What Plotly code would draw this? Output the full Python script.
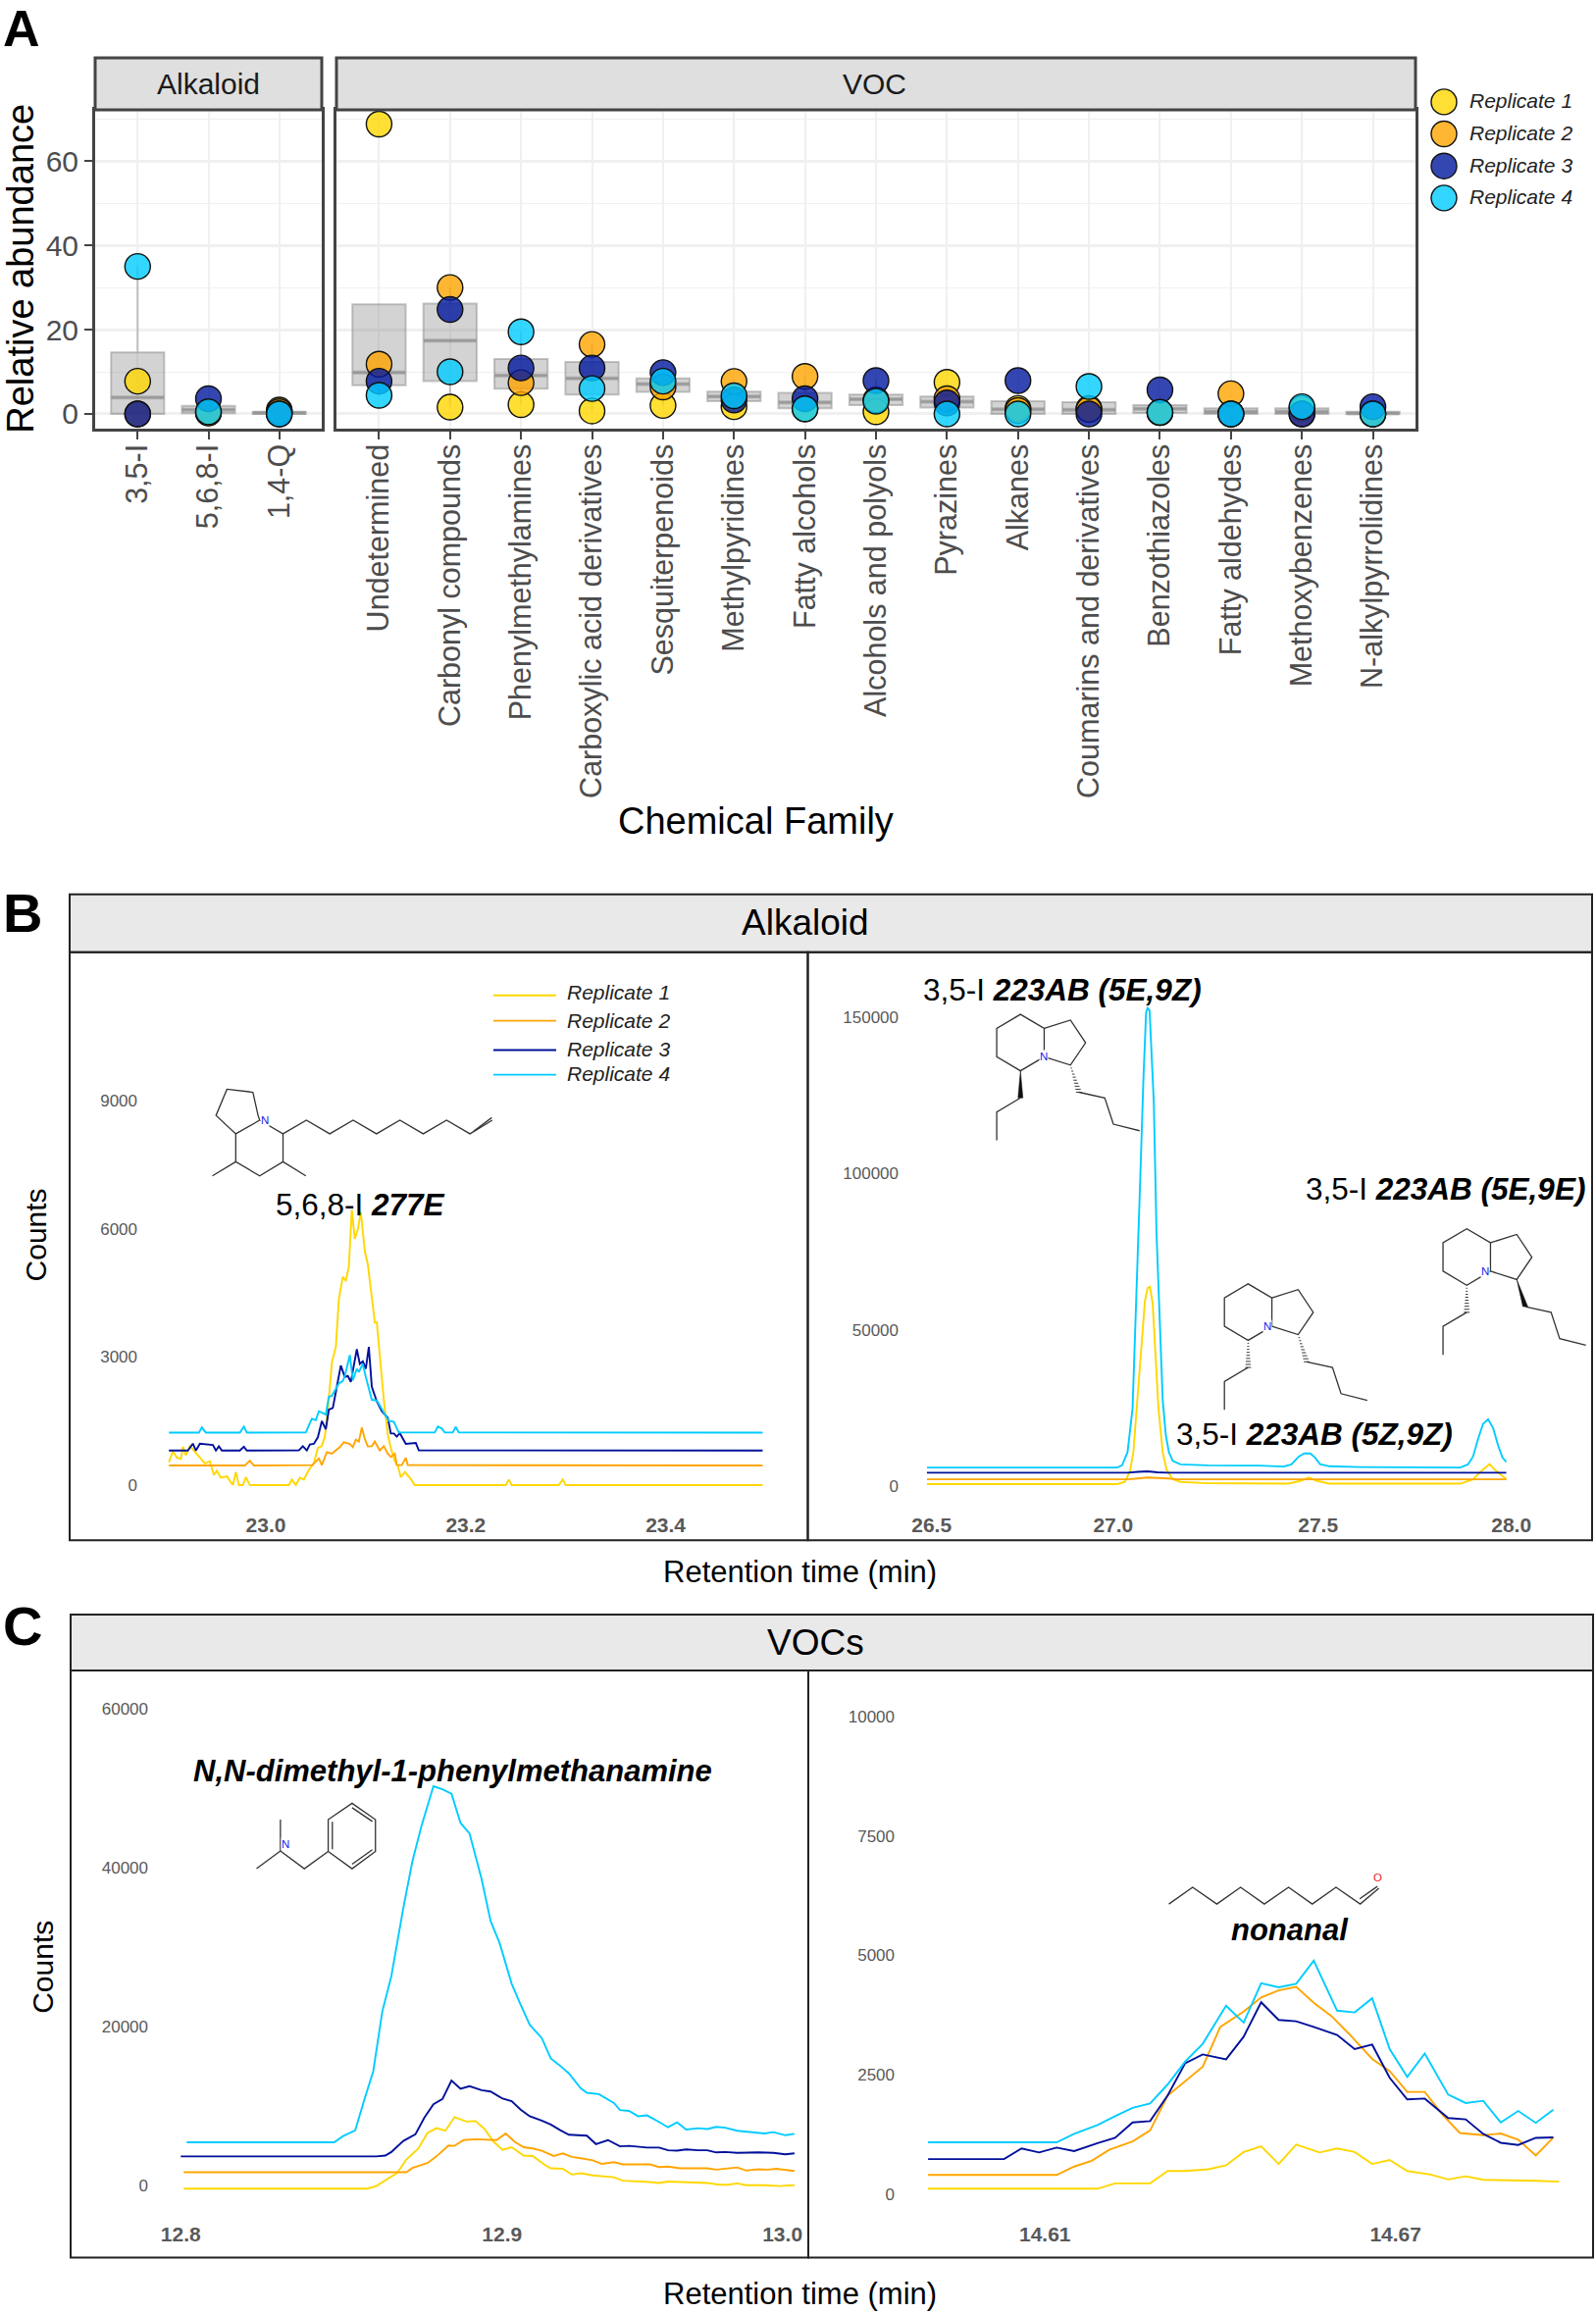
import plotly.graph_objects as go

W, H = 1627, 2357
FONT = "Liberation Sans"
def X(p): return p / W
def Y(p): return 1 - (p + 1.5 if p > 900 else p) / H

# ---------- Panel A data ----------
families_alk = ["3,5-I", "5,6,8-I", "1,4-Q"]
families_voc = ["Undetermined", "Carbonyl compounds", "Phenylmethylamines", "Carboxylic acid derivatives",
                "Sesquiterpenoids", "Methylpyridines", "Fatty alcohols", "Alcohols and polyols", "Pyrazines",
                "Alkanes", "Coumarins and derivatives", "Benzothiazoles", "Fatty aldehydes",
                "Methoxybenzenes", "N-alkylpyrrolidines"]
r1_alk = [7.75, 0.3, 0.9]
r2_alk = [0.0, 0.2, 0.5]
r3_alk = [0.0, 3.6, 0.0]
r4_alk = [35.0, 0.5, 0.0]
r1_voc = [68.8, 1.6, 2.2, 0.7, 2.0, 1.7, 1.2, 0.5, 7.5, 1.3, 1.3, 0.3, 0.0, 1.3, 0.0]
r2_voc = [11.8, 30.0, 7.4, 16.5, 6.4, 7.7, 8.9, 3.3, 3.6, 0.8, 1.0, 0.3, 4.8, 0.0, 0.0]
r3_voc = [7.75, 24.8, 10.9, 10.9, 9.8, 3.3, 3.6, 7.9, 2.6, 7.9, 0.0, 5.7, 0.0, 0.0, 1.7]
r4_voc = [4.4, 10.0, 19.5, 6.0, 7.75, 4.3, 1.2, 3.0, 0.0, 0.0, 6.5, 0.4, 0.0, 1.7, 0.0]

q1_alk = [0.0, 0.15, 0.0]
med_alk = [3.9, 1.0, 0.2]
q3_alk = [14.6, 1.9, 0.5]
low_alk = [0.0, 0.15, 0.0]
high_alk = [35.0, 1.9, 0.9]
q1_voc = [6.8, 7.8, 6.0, 4.6, 5.2, 3.0, 1.3, 2.1, 1.5, 0.0, 0.0, 0.2, 0.0, 0.0, 0.0]
med_voc = [9.8, 17.4, 9.1, 8.4, 7.1, 4.1, 2.7, 3.5, 2.9, 1.1, 1.0, 1.2, 0.5, 0.5, 0.1]
q3_voc = [26.0, 26.2, 13.0, 12.3, 8.4, 5.3, 5.0, 4.6, 4.1, 3.0, 2.8, 2.1, 1.3, 1.3, 0.5]
low_voc = [4.4, 1.6, 2.2, 0.7, 2.0, 1.7, 1.2, 0.5, 0.0, 0.0, 0.0, 0.2, 0.0, 0.0, 0.0]
high_voc = [26.0, 30.0, 19.5, 16.5, 9.8, 7.7, 8.9, 7.9, 7.5, 3.0, 2.8, 2.1, 1.3, 1.3, 0.5]

rep_names = ["Replicate 1", "Replicate 2", "Replicate 3", "Replicate 4"]
rep_fill = ["rgba(255,215,0,0.8)", "rgba(255,165,0,0.8)", "rgba(1,24,159,0.8)", "rgba(0,204,255,0.8)"]
rep_line = ["#FFD700", "#FFA500", "#00109A", "#00CCFF"]

# ---------- Panel B data (left: 5,6,8-I 277E) ----------
bl_rt_r1 = [22.903,22.907,22.911,22.915,22.917,22.92,22.924,22.929,22.934,22.939,22.944,22.948,22.951,22.955,22.961,22.967,22.970,22.973,22.977,22.980,22.984,23.023,23.026,23.03,23.034,23.038,23.043,23.048,23.052,23.056,23.059,23.063,23.066,23.07,23.073,23.077,23.08,23.083,23.086,23.089,23.092,23.095,23.099,23.102,23.106,23.109,23.111,23.115,23.118,23.122,23.125,23.129,23.132,23.135,23.139,23.144,23.149,23.24,23.243,23.246,23.293,23.297,23.3,23.497]
bl_ct_r1 = [540,790,645,615,900,700,920,790,645,510,560,235,340,175,205,0,305,0,0,185,0,0,130,0,175,130,360,510,870,920,1130,2000,2870,3230,4350,4880,4780,5120,6450,5770,5990,6400,5480,5170,4400,3810,3810,2710,2000,1180,870,560,460,185,305,175,0,0,130,0,0,130,0,0]
bl_rt_r2 = [22.903,22.979,22.984,22.988,23.0465,23.053,23.056,23.061,23.066,23.074,23.078,23.084,23.087,23.090,23.093,23.096,23.099,23.102,23.106,23.109,23.114,23.118,23.122,23.125,23.129,23.131,23.136,23.140,23.142,23.497]
bl_ct_r2 = [460,460,575,460,470,623,470,775,737,890,1005,967,890,1066,1020,1349,1080,906,913,1020,813,913,737,661,737,470,470,637,470,460]
bl_rt_r3 = [22.903,22.922,22.927,22.930,22.934,22.942,22.947,22.950,22.953,22.956,22.974,22.978,22.981,23.033,23.037,23.041,23.044,23.048,23.052,23.056,23.060,23.063,23.067,23.071,23.075,23.079,23.082,23.085,23.091,23.094,23.097,23.100,23.103,23.106,23.111,23.116,23.122,23.125,23.128,23.131,23.134,23.140,23.150,23.153,23.497]
bl_ct_r3 = [810,810,973,810,973,960,940,810,910,810,810,900,810,814,913,814,951,967,1120,1500,1310,1770,1808,2305,2800,2534,2557,2420,3184,2840,2900,2725,3237,2305,1960,1731,1578,1211,1211,1135,1219,967,990,814,810]
bl_rt_r4 = [22.903,22.933,22.936,22.940,22.974,22.978,22.981,23.040,23.046,23.050,23.053,23.060,23.063,23.066,23.073,23.077,23.079,23.084,23.087,23.091,23.093,23.097,23.100,23.106,23.111,23.117,23.123,23.128,23.133,23.169,23.172,23.176,23.179,23.187,23.190,23.193,23.497]
bl_ct_r4 = [1230,1230,1350,1230,1230,1370,1230,1234,1555,1525,1731,1655,2075,2090,2381,2442,2550,3046,2458,2725,2649,2840,2534,1999,1983,1731,1502,1486,1234,1234,1372,1326,1234,1234,1364,1234,1230]

# ---------- Panel B data (right: 3,5-I 223AB) ----------
br_rt_r1 = [26.488,26.98,27.0,27.013,27.022,27.033,27.043,27.052,27.059,27.065,27.072,27.078,27.087,27.098,27.108,27.124,27.144,27.215,27.424,27.456,27.476,27.495,27.529,27.868,27.901,27.92,27.944,27.957,27.987]
br_ct_r1 = [700,700,1400,4600,10900,27700,45900,59200,63400,63800,58500,45900,24900,10900,5300,2240,1400,980,840,1800,2800,1800,840,840,2240,4600,7100,5300,2240]
br_rt_r2 = [26.488,27.007,27.033,27.059,27.111,27.137,27.987]
br_ct_r2 = [2240,2240,2500,2800,2500,2240,2240]
br_rt_r3 = [26.488,27.007,27.033,27.059,27.085,27.111,27.987]
br_ct_r3 = [4340,4340,4600,4750,4480,4340,4340]
br_rt_r4 = [26.488,26.98,26.993,27.007,27.02,27.03,27.039,27.048,27.055,27.059,27.064,27.069,27.075,27.082,27.09,27.098,27.106,27.114,27.124,27.144,27.215,27.346,27.411,27.431,27.45,27.464,27.48,27.492,27.505,27.529,27.607,27.738,27.868,27.888,27.901,27.914,27.927,27.94,27.953,27.966,27.977,27.987]
br_ct_r4 = [6000,6000,6700,10900,24900,59900,94850,129800,151500,152900,152200,138900,122800,80900,52900,27700,16500,10900,8100,7000,6700,6600,6300,7000,9500,10500,10500,9200,7100,6400,6150,6000,6000,7000,9500,15100,20000,21400,18600,13000,9200,7800]

# ---------- Panel C data (left: N,N-dimethyl-1-phenylmethanamine) ----------
cl_rt_r1 = [12.801,12.862,12.865,12.869,12.872,12.875,12.879,12.882,12.885,12.888,12.891,12.895,12.898,12.901,12.904,12.907,12.910,12.914,12.917,12.921,12.923,12.927,12.930,12.933,12.937,12.944,12.947,12.956,12.959,12.962,12.970,12.975,12.979,12.982,12.985,12.988,12.994,12.999,13.004]
cl_ct_r1 = [0,0,330,1330,2000,3670,5060,7000,7610,7280,9000,8440,8500,7500,5890,4890,5220,4170,4110,3000,2560,2500,1780,1940,1670,1440,1000,830,720,890,830,720,500,500,670,440,440,330,440]
cl_rt_r2 = [12.801,12.875,12.877,12.882,12.885,12.889,12.891,12.894,12.898,12.905,12.908,12.911,12.914,12.917,12.920,12.924,12.927,12.930,12.933,12.937,12.940,12.944,12.947,12.956,12.959,12.962,12.966,12.975,12.978,12.985,12.988,12.992,12.995,12.998,13.004]
cl_ct_r2 = [2060,2060,2610,3220,4060,5440,5390,6110,6220,6110,6950,5890,5220,5060,4780,4110,4440,4000,3830,3560,3110,3330,3060,3060,2720,2780,2560,2560,2390,2670,2280,2440,2390,2500,2220]
cl_rt_r3 = [12.8,12.865,12.868,12.870,12.874,12.878,12.881,12.884,12.887,12.890,12.893,12.896,12.900,12.903,12.907,12.910,12.913,12.916,12.920,12.923,12.926,12.929,12.935,12.938,12.942,12.946,12.949,12.955,12.959,12.962,12.965,12.968,12.972,12.975,12.978,12.981,12.985,12.992,12.997,13.001,13.004]
cl_ct_r3 = [4060,4060,4170,4610,6000,6830,8950,10610,11280,13610,12560,12890,12390,12220,11330,11000,9940,9110,8560,8060,7390,6780,6670,5610,6110,5330,5390,5170,5170,4830,4780,4940,4830,4830,4560,4610,4500,4560,4500,4330,4440]
cl_rt_r4 = [12.802,12.851,12.854,12.858,12.861,12.864,12.867,12.870,12.874,12.877,12.880,12.884,12.887,12.890,12.893,12.896,12.900,12.903,12.906,12.910,12.913,12.916,12.920,12.923,12.926,12.929,12.933,12.935,12.939,12.944,12.946,12.949,12.952,12.955,12.959,12.962,12.965,12.968,12.972,12.975,12.978,12.981,12.985,12.988,12.992,12.994,12.997,13.001,13.004]
cl_ct_r4 = [5830,5830,6610,7330,11170,14780,22280,26720,35340,41170,45600,50610,50230,49670,46000,44670,38950,33670,30890,25780,23110,20610,18950,16390,15500,14500,12610,12060,11890,10780,9890,9780,9110,9220,8390,7720,8330,7440,7610,7500,7780,7670,7280,7170,6950,6950,7110,6720,6890]

# ---------- Panel C data (right: nonanal) ----------
cr_rt_r1 = [14.590,14.619,14.622,14.628,14.631,14.634,14.638,14.641,14.644,14.647,14.650,14.653,14.657,14.660,14.663,14.666,14.669,14.672,14.676,14.679,14.682,14.685,14.694,14.698]
cr_ct_r1 = [111,111,222,222,481,481,518,601,879,999,629,1036,870,953,879,629,712,481,407,305,370,296,277,259]
cr_rt_r2 = [14.590,14.612,14.615,14.618,14.621,14.625,14.628,14.631,14.634,14.637,14.640,14.644,14.647,14.650,14.653,14.656,14.659,14.662,14.666,14.669,14.672,14.675,14.678,14.681,14.685,14.688,14.691,14.694,14.697]
cr_ct_r2 = [398,398,574,694,925,1101,1332,2063,2359,2664,3497,3820,4116,4264,4338,4005,3728,3358,2830,2572,2137,2137,1665,1277,1230,1267,1138,805,1184]
cr_rt_r3 = [14.590,14.603,14.606,14.609,14.612,14.615,14.619,14.622,14.625,14.628,14.631,14.634,14.637,14.641,14.644,14.647,14.650,14.653,14.656,14.660,14.663,14.666,14.669,14.672,14.675,14.679,14.682,14.685,14.688,14.691,14.694,14.697]
cr_ct_r3 = [731,731,953,870,971,897,1064,1175,1499,1526,2063,2738,2923,2821,3293,4015,3645,3617,3497,3330,3034,3127,2433,1980,1998,1591,1563,1258,1073,1027,1175,1184]
cr_rt_r4 = [14.590,14.612,14.615,14.619,14.622,14.625,14.628,14.631,14.634,14.637,14.641,14.644,14.647,14.650,14.653,14.656,14.660,14.663,14.666,14.669,14.672,14.675,14.679,14.682,14.685,14.688,14.691,14.694,14.697]
cr_ct_r4 = [1082,1082,1258,1443,1628,1804,1896,2294,2775,3145,3940,3589,4412,4329,4403,4884,3839,3802,4098,3034,2451,2942,2081,1906,1952,1499,1739,1489,1767]

fig = go.Figure()

# ---------- Panel A traces ----------
BOX_FILL = "rgba(128,128,128,0.35)"
BOX_LINE = "rgba(128,128,128,0.45)"
def panel_a(fam, q1, med, q3, low, high, reps, xa, ya):
    fig.add_trace(go.Box(x=fam, q1=q1, median=med, q3=q3, lowerfence=low, upperfence=high,
                         width=0.75, whiskerwidth=0, fillcolor=BOX_FILL, boxpoints=False,
                         line=dict(color=BOX_LINE, width=2), showlegend=False, hoverinfo="skip",
                         xaxis=xa, yaxis=ya))
    fig.add_trace(go.Scatter(x=fam, y=med, mode="markers", showlegend=False, hoverinfo="skip",
                             marker=dict(symbol="line-ew", size=38.5, line=dict(color="rgba(128,128,128,0.45)", width=4)),
                             xaxis=xa, yaxis=ya))
    for i, vals in enumerate(reps):
        fig.add_trace(go.Scatter(x=fam, y=vals, mode="markers", name=rep_names[i], showlegend=False,
                                 marker=dict(size=26, color=rep_fill[i], line=dict(color="#111", width=1.4)),
                                 xaxis=xa, yaxis=ya))

panel_a(families_alk, q1_alk, med_alk, q3_alk, low_alk, high_alk, [r1_alk, r2_alk, r3_alk, r4_alk], "x", "y")
panel_a(families_voc, q1_voc, med_voc, q3_voc, low_voc, high_voc, [r1_voc, r2_voc, r3_voc, r4_voc], "x2", "y2")

# legends drawn on small axis pairs of their own so that keys and spacing follow the reference
key_pos = [1, 2, 3, 4]
for i in range(4):
    fig.add_trace(go.Scatter(x=[0], y=[key_pos[i]], mode="markers", showlegend=False, hoverinfo="skip",
                             marker=dict(size=26, color=rep_fill[i], line=dict(color="#111", width=1.4)),
                             xaxis="x7", yaxis="y7"))
line_key_pos = [0.64, 1.82, 3.18, 4.32]
line_key_text_pos = [0.5, 1.82, 3.12, 4.26]
for i in range(4):
    fig.add_trace(go.Scatter(x=[0, 64], y=[line_key_pos[i]] * 2, mode="lines", showlegend=False, hoverinfo="skip",
                             line=dict(color=rep_line[i], width=1.9), xaxis="x8", yaxis="y8"))

# ---------- Panels B, C traces ----------
def lines(series, xa, ya):
    for i, (rt, ct) in enumerate(series):
        fig.add_trace(go.Scatter(x=rt, y=ct, mode="lines", name=rep_names[i], showlegend=False,
                                 line=dict(color=rep_line[i], width=1.9), xaxis=xa, yaxis=ya))

lines([(bl_rt_r1, bl_ct_r1), (bl_rt_r2, bl_ct_r2), (bl_rt_r3, bl_ct_r3), (bl_rt_r4, bl_ct_r4)], "x3", "y3")
lines([(br_rt_r1, br_ct_r1), (br_rt_r2, br_ct_r2), (br_rt_r3, br_ct_r3), (br_rt_r4, br_ct_r4)], "x4", "y4")
lines([(cl_rt_r1, cl_ct_r1), (cl_rt_r2, cl_ct_r2), (cl_rt_r3, cl_ct_r3), (cl_rt_r4, cl_ct_r4)], "x5", "y5")
lines([(cr_rt_r1, cr_ct_r1), (cr_rt_r2, cr_ct_r2), (cr_rt_r3, cr_ct_r3), (cr_rt_r4, cr_ct_r4)], "x6", "y6")

# ---------- Layout helpers ----------
GRID = "#F0F0F0"
AX = "#444444"
def a_x(dom, fam):
    return dict(domain=[X(dom[0]), X(dom[1])], type="category", categoryorder="array", categoryarray=fam,
                range=[-0.6, len(fam) - 0.4], tickangle=-90, showline=True, mirror=True, linecolor=AX, linewidth=3,
                ticks="outside", ticklen=8, tickwidth=2, tickcolor=AX, showgrid=True, gridcolor=GRID, gridwidth=2,
                zeroline=False, tickfont=dict(family=FONT, size=30.5, color="#4D4D4D"), ticklabelstandoff=-7)
def a_y(anchor, show):
    return dict(domain=[Y(437), Y(112)], range=[-3.42, 72.2], anchor=anchor, tickvals=[0, 20, 40, 60],
                showline=True, mirror=True, linecolor=AX, linewidth=3, showgrid=True, gridcolor=GRID, gridwidth=2.6,
                minor=dict(tickvals=[10, 30, 50, 70], showgrid=True, gridcolor=GRID, gridwidth=1.3, ticks=""),
                ticks="outside" if show else "", ticklen=8, tickwidth=2, tickcolor=AX, showticklabels=show, zeroline=False,
                tickfont=dict(family=FONT, size=30, color="#4D4D4D"))
def chrom_x(dom, rng, vals, text, lab_y):
    return dict(domain=[X(dom[0]), X(dom[1])], range=rng, anchor="free", position=Y(lab_y), tickvals=vals, ticktext=text,
                showline=False, showgrid=False, zeroline=False, ticks="",
                tickfont=dict(family=FONT, size=21, color="#595959", weight="bold"))
def chrom_y(top, bottom, rng, vals, pos_x, shift=0):
    return dict(domain=[Y(bottom), Y(top)], range=rng, anchor="free", position=X(pos_x), tickvals=vals,
                tickformat="d", showline=False, showgrid=False, zeroline=False, ticks="", ticklabelshift=shift,
                tickfont=dict(family=FONT, size=17, color="#595959"))

layout = dict(
    width=W, height=H, margin=dict(l=0, r=0, t=0, b=0), paper_bgcolor="white", plot_bgcolor="rgba(0,0,0,0)",
    boxmode="overlay", font=dict(family=FONT), showlegend=False,
    xaxis=a_x((97, 328), families_alk), yaxis=a_y("x", True),
    xaxis2=a_x((343, 1443), families_voc), yaxis2={**a_y("x2", False), "matches": "y"},
    xaxis3=chrom_x((71, 823), [22.8037, 23.5417], [23.0, 23.2, 23.4], ["23.0", "23.2", "23.4"], 1540),
    yaxis3=chrom_y(970, 1570, [-1289, 12484], [0, 3000, 6000, 9000], 140),
    xaxis4=chrom_x((823.6, 1623), [26.18, 28.209], [26.5, 26.97, 27.5, 28.0], ["26.5", "27.0", "27.5", "28.0"], 1540),
    yaxis4=chrom_y(970, 1570, [-17230, 170750], [0, 50000, 100000, 150000], 916),
    xaxis5=chrom_x((72, 824), [12.7634, 13.0086], [12.8, 12.9068, 13.0], ["12.8", "12.9", "13.0"], 2263),
    yaxis5=chrom_y(1703, 2302, [-8670, 65170], [0, 20000, 40000, 60000], 151, -3),
    xaxis6=chrom_x((824, 1624), [14.5695, 14.7038], [14.61, 14.67], ["14.61", "14.67"], 2263),
    yaxis6=chrom_y(1703, 2302, [-1332, 10961], [0, 2500, 5000, 7500, 10000], 912),
    xaxis7=dict(domain=[X(1452), X(1622)], range=[-20, 150], visible=False, anchor="y7"),
    yaxis7=dict(domain=[Y(218), Y(88)], range=[4.49, 0.51], visible=False, anchor="x7"),
    xaxis8=dict(domain=[X(503), X(703)], range=[0, 200], visible=False, anchor="y8"),
    yaxis8=dict(domain=[Y(1110), Y(1000)], range=[5, 0], visible=False, anchor="x8"),
)

shapes = []
anns = []
def rect(x0, y0, x1, y1, fill, color, width):
    shapes.append(dict(type="rect", xref="paper", yref="paper", x0=X(x0), x1=X(x1), y0=Y(y0), y1=Y(y1),
                       fillcolor=fill, line=dict(color=color, width=width), layer="above"))
def label(x, y, text, size, color="#000", angle=0, anchor="center"):
    anns.append(dict(xref="paper", yref="paper", x=X(x), y=Y(y), text=text, showarrow=False, textangle=angle,
                     xanchor=anchor, yanchor="middle", font=dict(family=FONT, size=size, color=color)))

# strips of panel A
rect(97, 59, 328, 112, "#DFDFDF", AX, 3)
rect(343, 59, 1443, 112, "#DFDFDF", AX, 3)
label(212, 86, "Alkaloid", 30, "#1A1A1A")
label(892, 86, "VOC", 30, "#1A1A1A")
# frames and strips of B, C
rect(71, 911, 1623, 970, "#E9E9E9", "#222", 2)
rect(71, 970, 823.5, 1570, "rgba(0,0,0,0)", "#222", 2)
rect(823.5, 970, 1623, 1570, "rgba(0,0,0,0)", "#222", 2)
rect(72, 1646, 1624, 1703, "#E9E9E9", "#222", 2)
rect(72, 1703, 824, 2302, "rgba(0,0,0,0)", "#222", 2)
rect(824, 1703, 1624, 2302, "rgba(0,0,0,0)", "#222", 2)

# texts
label(21, 274, "Relative abundance", 38, "#000", -90)
label(770, 838, "Chemical Family", 38)
label(821, 940, "Alkaloid", 37)
label(831, 1674, "VOCs", 37)
label(815, 1602, "Retention time (min)", 31)
label(815, 2339, "Retention time (min)", 31)
label(36, 1259, "Counts", 30, "#000", -90)
label(44, 2006, "Counts", 30, "#000", -90)
label(1, 29, "<b>A</b>", 52, anchor="left")
label(1, 929.5, "<b>B</b>", 56, anchor="left")
label(1, 1657.5, "<b>C</b>", 56, anchor="left")
label(367, 1228, "5,6,8-I <b><i>277E</i></b>", 31.5)
label(1083, 1008, "3,5-I <b><i>223AB (5E,9Z)</i></b>", 31.5)
label(1473, 1212, "3,5-I <b><i>223AB (5E,9E)</i></b>", 31.5)
label(1340, 1461.6, "3,5-I <b><i>223AB (5Z,9Z)</i></b>", 31.5)
label(462, 1805.5, "<b><i>N,N-dimethyl-1-phenylmethanamine</i></b>", 31)
label(1315, 1968, "<b><i>nonanal</i></b>", 31)

# legend texts
for i, name in enumerate(rep_names):
    anns.append(dict(xref="x7", yref="y7", x=23.5, y=key_pos[i] - 0.03, text="<i>" + name + "</i>", showarrow=False, xanchor="left",
                     yanchor="middle", font=dict(family=FONT, size=21, color="#222")))
    anns.append(dict(xref="x8", yref="y8", x=73, y=line_key_text_pos[i], text="<i>" + name + "</i>", showarrow=False,
                     xanchor="left", yanchor="middle", font=dict(family=FONT, size=21, color="#222")))

# ---------- Chemical structures (decoration, drawn in page pixels) ----------
MOL = "#333333"
def poly(pts, fx, fy, ox, oy, w=1.3, close=False):
    d = "M " + " L ".join(f"{X(ox + p[0] / fx):.5f} {Y(oy + p[1] / fy):.5f}" for p in pts) + (" Z" if close else "")
    shapes.append(dict(type="path", path=d, xref="paper", yref="paper", line=dict(color=MOL, width=w), layer="above"))
def wedge(a, b, fx, fy, ox, oy):
    ax, ay, bx, by = a[0], a[1], b[0], b[1]
    d = f"M {X(ox+ax/fx):.5f} {Y(oy+ay/fy):.5f} L {X(ox+bx/fx-2.5):.5f} {Y(oy+by/fy):.5f} L {X(ox+bx/fx+2.5):.5f} {Y(oy+by/fy):.5f} Z"
    shapes.append(dict(type="path", path=d, xref="paper", yref="paper", fillcolor="#111",
                       line=dict(color="#111", width=0.5), layer="above"))
def hashed(a, b, fx, fy, ox, oy, n=9):
    for k in range(1, n + 1):
        t = k / n
        cx, cy = ox + (a[0] + (b[0] - a[0]) * t) / fx, oy + (a[1] + (b[1] - a[1]) * t) / fy
        half = 0.4 + 2.6 * t
        shapes.append(dict(type="line", xref="paper", yref="paper", x0=X(cx - half), x1=X(cx + half), y0=Y(cy), y1=Y(cy),
                           line=dict(color="#222", width=0.9), layer="above"))
def atom(x, y, text, color):
    anns.append(dict(xref="paper", yref="paper", x=X(x), y=Y(y), text=text, showarrow=False, bgcolor="white", borderpad=0,
                     font=dict(family=FONT, size=11.5, color=color)))

# 277E
f3 = (1.889, 2.24, 0, 900)
poly([(500, 541), (497, 530), (487, 477), (437, 470), (416, 530), (454, 572), (500, 541)], *f3)
poly([(500, 541), (545, 572), (545, 636), (500, 668), (454, 636), (454, 572)], *f3)
poly([(454, 636), (409, 668)], *f3)
poly([(545, 636), (589, 668)], *f3)
poly([(545, 572), (590, 541), (635, 572), (680, 541), (725, 572), (770, 541), (815, 572), (860, 541), (905, 572), (948, 541)], *f3)
poly([(912, 566), (947, 535)], *f3)
atom(500 / 1.889, 900 + 541 / 2.24, "N", "#2222EE")

# 223AB template
f4x, f4y = 1.943, 2.24
def indolizidine(dx, dy, propyl_bold, butyl_bold):
    ox, oy = 820 + dx / f4x, 900 + dy / f4y
    poly([(475, 396), (475, 331), (428, 299), (381, 331), (381, 396), (428, 428), (475, 396)], f4x, f4y, ox, oy)
    poly([(475, 331), (527, 312), (557, 364), (527, 415), (475, 396)], f4x, f4y, ox, oy)
    (wedge if propyl_bold else hashed)((428, 428), (428, 490), f4x, f4y, ox, oy)
    poly([(428, 490), (381, 522), (381, 587)], f4x, f4y, ox, oy)
    (wedge if butyl_bold else hashed)((527, 415), (544, 477), f4x, f4y, ox, oy)
    poly([(544, 477), (595, 490), (612, 550), (664, 565)], f4x, f4y, ox, oy)
    atom(ox + 475 / f4x, oy + 396 / f4y, "N", "#2222EE")
indolizidine(0, 0, True, False)
indolizidine(451, 616, False, False)
indolizidine(884, 490, False, True)

# benzylamine
f5 = (1.889, 2.218, 0, 1650)
poly([(540, 526), (540, 455)], *f5)
poly([(540, 526), (494, 566)], *f5)
poly([(540, 526), (586, 566), (632, 527)], *f5)
poly([(632, 527), (632, 455), (678, 418), (723, 455), (723, 527), (678, 566), (632, 527)], *f5)
poly([(640, 460), (640, 522)], *f5)
poly([(678, 428), (717, 459)], *f5)
poly([(678, 556), (717, 523)], *f5)
atom(540 / 1.889, 1650 + 526 / 2.218, "N", "#2222EE")

# nonanal
f6 = (1.943, 2.218, 820, 1650)
poly([(722, 646), (769, 608), (817, 646), (864, 608), (911, 646), (959, 608), (1006, 646), (1053, 608), (1101, 646), (1138, 610)], *f6)
poly([(1100, 634), (1135, 606)], *f6)
atom(820 + 1146 / 1.943, 1650 + 602 / 2.218, "O", "#EE2222")

layout["shapes"] = shapes
layout["annotations"] = anns
fig.update_layout(**layout)
fig.write_html("out.html", config={"displayModeBar": False}, post_script="document.body.style.margin='0';")
